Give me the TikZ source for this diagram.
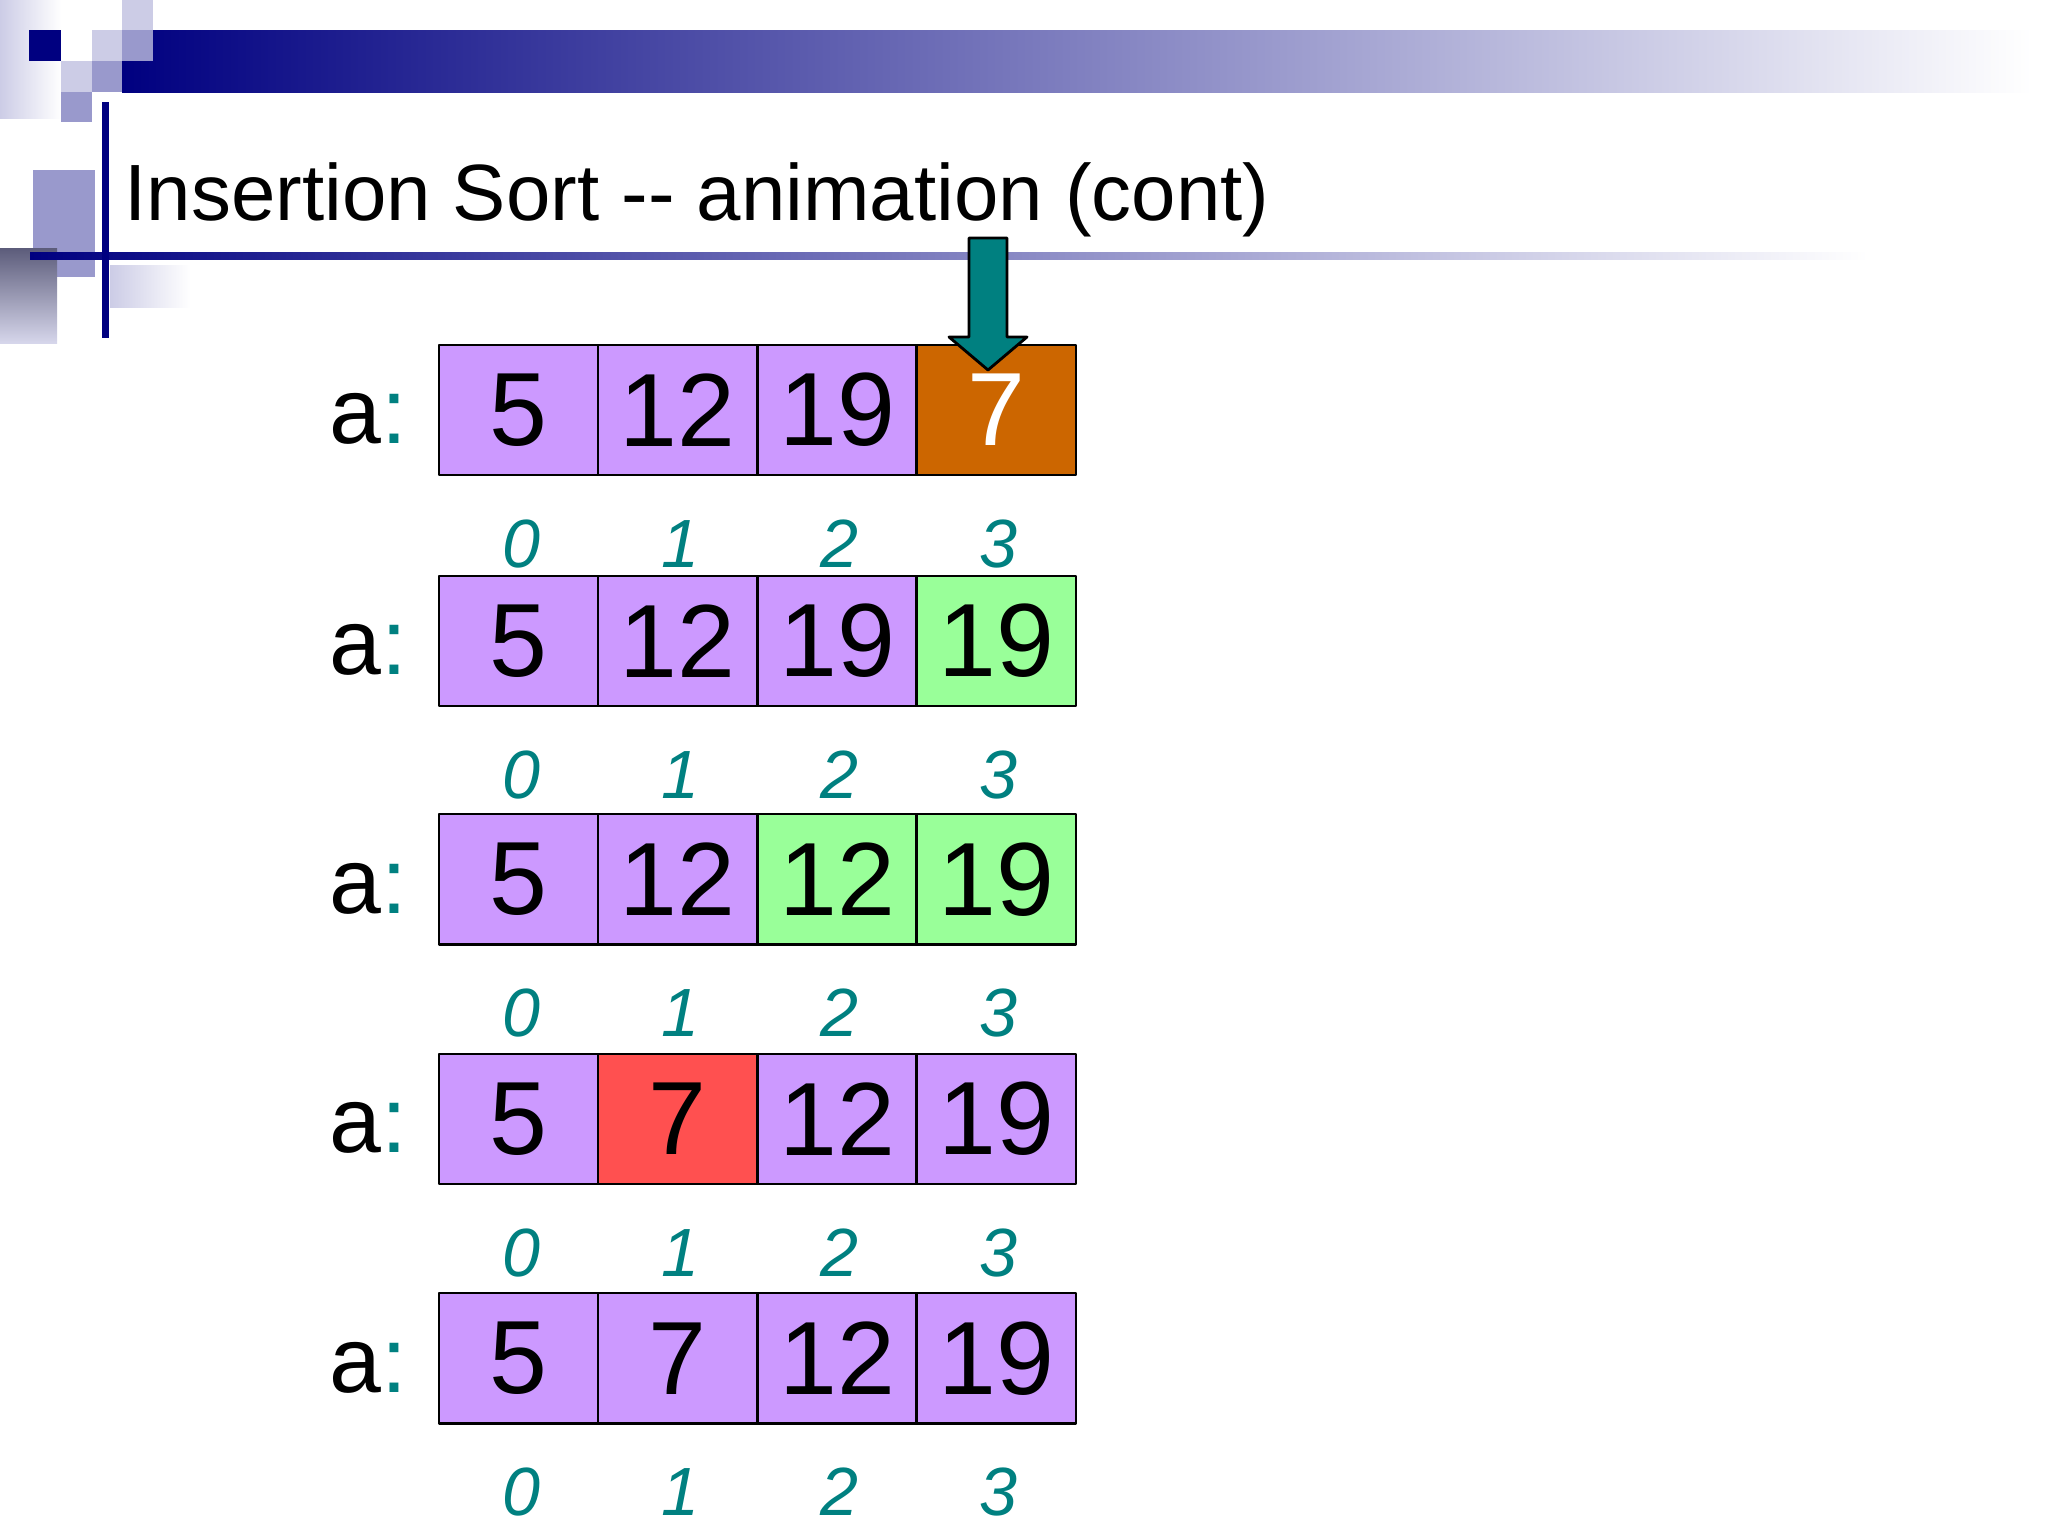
\documentclass[tikz,border=0pt]{standalone}
\usepackage{fontspec}
\setmainfont{Liberation Sans}
\definecolor{navy}{HTML}{000080}
\definecolor{lav}{HTML}{CCCCE6}
\definecolor{midlav}{HTML}{9999CC}
\definecolor{tealc}{HTML}{008080}
\definecolor{cp}{HTML}{CC99FF}
\definecolor{co}{HTML}{CC6600}
\definecolor{cg}{HTML}{99FF99}
\definecolor{cr}{HTML}{FF5050}
\begin{document}
\begin{tikzpicture}[x=0.01cm,y=-0.01cm,line join=round,
    cellbox/.style={draw=black,line width=0.7pt,minimum width=1.593cm,minimum height=1.3cm,
      inner sep=0pt,anchor=north west,font=\fontsize{29.6}{30}\selectfont},
    rowlbl/.style={anchor=base east,inner sep=0pt,font=\fontsize{26.5}{27}\selectfont},
    idxlbl/.style={anchor=base,inner sep=0pt,text=tealc,font=\fontsize{19.4}{20}\selectfont\itshape}]
    \useasboundingbox (0,0) rectangle (2048,1536);
    % slide decoration
    \fill[left color=lav,right color=white] (0,0) rectangle (61,118);
    \fill[left color=navy,right color=white] (122,30) rectangle (2032,92);
    \fill[navy] (29,30) rectangle (61,61);
    \fill[lav] (122,0) rectangle (153,30);
    \fill[lav] (92,30) rectangle (122,61);
    \fill[midlav] (122,30) rectangle (153,61);
    \fill[lav] (61,61) rectangle (92,92);
    \fill[midlav] (92,61) rectangle (122,92);
    \fill[midlav] (61,92) rectangle (92,122);
    \fill[midlav] (33,170) rectangle (95,277);
    \fill[top color=black!40!midlav,bottom color=lav!80] (0,248) rectangle (57,343);
    \fill[left color=lav,right color=white] (110,265) rectangle (190,307);
    \fill[left color=navy,right color=white] (30,252) rectangle (1868,259);
    \fill[navy] (102,102) rectangle (109,338);
    \node[anchor=base west,inner sep=0pt,font=\fontsize{22.7}{24}\selectfont] (title) at (124,220)
      {Insertion Sort -{}- animation (cont)};
    % the five steps
    \foreach \r/\top/\row in {1/343.5/{5/cp/black,12/cp/black,19/cp/black,7/co/white},
        2/574.5/{5/cp/black,12/cp/black,19/cp/black,19/cg/black},
        3/813/{5/cp/black,12/cp/black,12/cg/black,19/cg/black},
        4/1052.5/{5/cp/black,7/cr/black,12/cp/black,19/cp/black},
        5/1292/{5/cp/black,7/cp/black,12/cp/black,19/cp/black}}{
      \node[rowlbl] (a\r) at (408,\top+100) {a\textcolor{tealc}{:}};
      \foreach \v/\f/\t [count=\i from 0] in \row {
        \node[cellbox,fill=\f,text=\t] (c\r\i) at ({437.5+\i*159.3},\top) {\v};
        \node[idxlbl] (i\r\i) at ({521+\i*159.3},\top+223.5) {\i};
      }
    }
    % pointer into the first row
    \draw[fill=tealc,line width=0.8pt] (969,238) -- (1007,238) -- (1007,337) -- (1027,337)
      -- (988,370) -- (949,337) -- (969,337) -- cycle;
\end{tikzpicture}
\end{document}
